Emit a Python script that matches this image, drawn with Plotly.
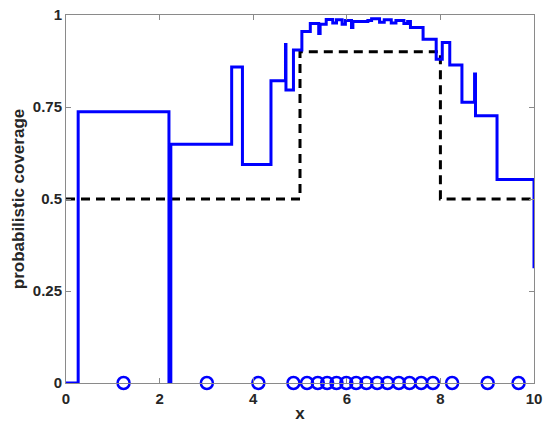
import plotly.graph_objects as go

# Probabilistic coverage (step function)
step_x = [0, 0.26, 2.20, 2.24, 3.54, 3.77, 4.38, 4.69, 4.70, 4.86, 5.04, 5.22,
          5.40, 5.43, 5.56, 5.70, 5.78, 5.90, 5.97, 6.10, 6.13, 6.45, 6.53, 6.70,
          6.80, 6.95, 7.05, 7.22, 7.30, 7.36, 7.63, 7.91, 8.04, 8.20, 8.46, 8.73,
          8.75, 9.21, 10.0]
step_y = [0, 0.737, 0, 0.649, 0.859, 0.594, 0.821, 0.92, 0.796, 0.905, 0.955, 0.977,
          0.95, 0.975, 0.988, 0.978, 0.987, 0.975, 0.985, 0.966, 0.982, 0.985, 0.99, 0.98,
          0.987, 0.978, 0.985, 0.977, 0.982, 0.966, 0.934, 0.88, 0.925, 0.864, 0.763, 0.84,
          0.726, 0.553, 0.312]

# Target coverage (dashed)
target_x = [0, 5, 8, 10]
target_y = [0.5, 0.9, 0.5, 0.5]

# Sample locations
sample_x = [1.23, 3.01, 4.11, 4.86, 5.15, 5.38, 5.58, 5.78, 5.99, 6.20, 6.42, 6.65,
            6.87, 7.11, 7.34, 7.59, 7.84, 8.25, 9.01, 9.67]
sample_y = [0] * len(sample_x)

x_ticks = [0, 2, 4, 6, 8, 10]
y_ticks = [0, 0.25, 0.5, 0.75, 1]
y_tick_labels = ["0", "0.25", "0.5", "0.75", "1"]

fig = go.Figure()
fig.add_trace(go.Scatter(x=target_x, y=target_y, mode="lines",
                         line=dict(color="black", width=3, dash="9px,6px", shape="hv"),
                         showlegend=False))
fig.add_trace(go.Scatter(x=step_x, y=step_y, mode="lines",
                         line=dict(color="#0000ff", width=3, shape="hv"),
                         showlegend=False))
fig.add_trace(go.Scatter(x=sample_x, y=sample_y, mode="markers",
                         marker=dict(symbol="circle-open", size=12, color="#0000ff",
                                     line=dict(width=2.5, color="#0000ff")),
                         cliponaxis=False, showlegend=False))

axis_common = dict(showgrid=False, zeroline=False, showline=True, linecolor="#8a8a8a",
                   linewidth=1, mirror="allticks", ticks="inside", ticklen=5,
                   tickcolor="#8a8a8a", automargin=False,
                   tickfont=dict(family="Arial", size=15, color="#262626", weight="bold"))

title_font = dict(family="Arial", size=17, color="#262626", weight="bold")

fig.update_layout(
    width=550, height=440,
    margin=dict(l=66, r=16, t=15, b=57),
    plot_bgcolor="white", paper_bgcolor="white",
    xaxis=dict(range=[0, 10], tickvals=x_ticks, ticklabelstandoff=2, **axis_common,
               title=dict(text="x", standoff=1, font=title_font)),
    yaxis=dict(range=[0, 1], tickvals=y_ticks, ticktext=y_tick_labels, **axis_common,
               title=dict(text="probabilistic coverage", standoff=3, font=title_font)),
)

fig.write_html("out.html", config={"displayModeBar": False},
               post_script="document.body.style.margin='0';document.body.style.padding='0';")
